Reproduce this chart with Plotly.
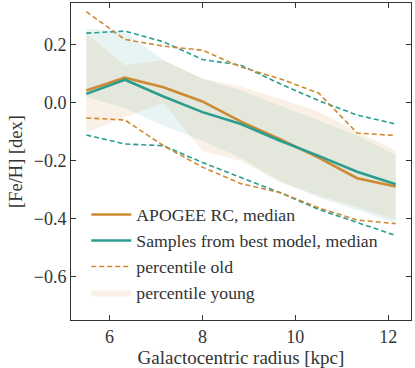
import plotly.graph_objects as go

ORANGE = "#cd8a32"
TEAL = "#2a9d8f"

# bin centres [kpc]
radius = [5.5, 6.33, 7.16, 8.0, 8.83, 9.67, 10.5, 11.33, 12.16]

# medians
apogee_med = [0.043, 0.087, 0.054, 0.005, -0.065, -0.125, -0.189, -0.260, -0.289]
model_med = [0.031, 0.080, 0.022, -0.032, -0.073, -0.131, -0.183, -0.238, -0.281]

# old-population percentiles (dashed)
apogee_old_hi = [0.315, 0.219, 0.196, 0.182, 0.124, 0.083, 0.034, -0.104, -0.113]
apogee_old_lo = [-0.052, -0.059, -0.148, -0.222, -0.279, -0.310, -0.362, -0.405, -0.417]
model_old_hi = [0.241, 0.248, 0.211, 0.150, 0.130, 0.066, 0.008, -0.042, -0.073]
model_old_lo = [-0.111, -0.142, -0.148, -0.206, -0.258, -0.310, -0.368, -0.414, -0.458]

# young-population percentiles (bands)
apogee_young_hi = [0.240, 0.130, 0.147, 0.083, 0.056, 0.014, -0.031, -0.100, -0.164]
apogee_young_lo = [-0.102, -0.050, 0.000, -0.166, -0.200, -0.275, -0.320, -0.360, -0.405]
model_young_hi = [0.257, 0.245, 0.147, 0.083, 0.043, -0.010, -0.061, -0.113, -0.180]
model_young_lo = [0.020, -0.018, -0.079, -0.131, -0.190, -0.270, -0.327, -0.370, -0.415]

FONT = "'Liberation Serif', 'Times New Roman', 'DejaVu Serif', serif"

fig = go.Figure()


def band(lo, hi, color, name, show):
    fig.add_trace(go.Scatter(
        x=radius + radius[::-1], y=hi + lo[::-1],
        fill="toself", fillcolor=color, mode="lines",
        line=dict(width=0), name=name, showlegend=show,
        legendrank=4, hoverinfo="skip",
    ))


band(model_young_lo, model_young_hi, "rgba(42,157,143,0.11)", "model young", False)
band(apogee_young_lo, apogee_young_hi, "rgba(205,138,50,0.12)", "percentile young", True)

dash = "5px,3px"
for ys, col, show in [(model_old_hi, TEAL, False), (model_old_lo, TEAL, False),
                      (apogee_old_hi, ORANGE, True), (apogee_old_lo, ORANGE, False)]:
    fig.add_trace(go.Scatter(
        x=radius, y=ys, mode="lines", name="percentile old",
        line=dict(color=col, width=1.6, dash=dash),
        showlegend=show, legendrank=3,
    ))

fig.add_trace(go.Scatter(
    x=radius, y=apogee_med, mode="lines", name="APOGEE RC, median",
    line=dict(color=ORANGE, width=2.6), legendrank=1,
))
fig.add_trace(go.Scatter(
    x=radius, y=model_med, mode="lines", name="Samples from best model, median",
    line=dict(color=TEAL, width=2.6), legendrank=2,
))

axis_common = dict(
    showline=True, linecolor="#333333", linewidth=1, mirror="allticks",
    ticks="inside", ticklen=5, tickcolor="#333333", showgrid=False,
    zeroline=False, tickfont=dict(size=18, color="#333333"),
)

fig.update_layout(
    width=415, height=368,
    margin=dict(l=71, r=4, t=3, b=48),
    paper_bgcolor="white", plot_bgcolor="white",
    font=dict(family=FONT, color="#333333"),
    xaxis=dict(range=[5.17, 12.49], tickvals=[6, 8, 10, 12],
               title=dict(text="Galactocentric radius [kpc]", font=dict(size=19), standoff=0),
               **axis_common),
    yaxis=dict(range=[-0.75, 0.345], tickvals=[-0.6, -0.4, -0.2, 0.0, 0.2],
               tickformat=".1f",
               title=dict(text="[Fe/H] [dex]", font=dict(size=18.5), standoff=6),
               **axis_common),
    legend=dict(x=0.045, y=0.027, xanchor="left", yanchor="bottom",
                bgcolor="rgba(0,0,0,0)", font=dict(size=17.7, color="#333333"),
                tracegroupgap=0, itemwidth=40),
    showlegend=True,
)

# the page body has a default 8px margin; drop it so the figure fills the window
fig.write_html("out.html", config={"displayModeBar": False},
               post_script="document.body.style.margin='0';")
